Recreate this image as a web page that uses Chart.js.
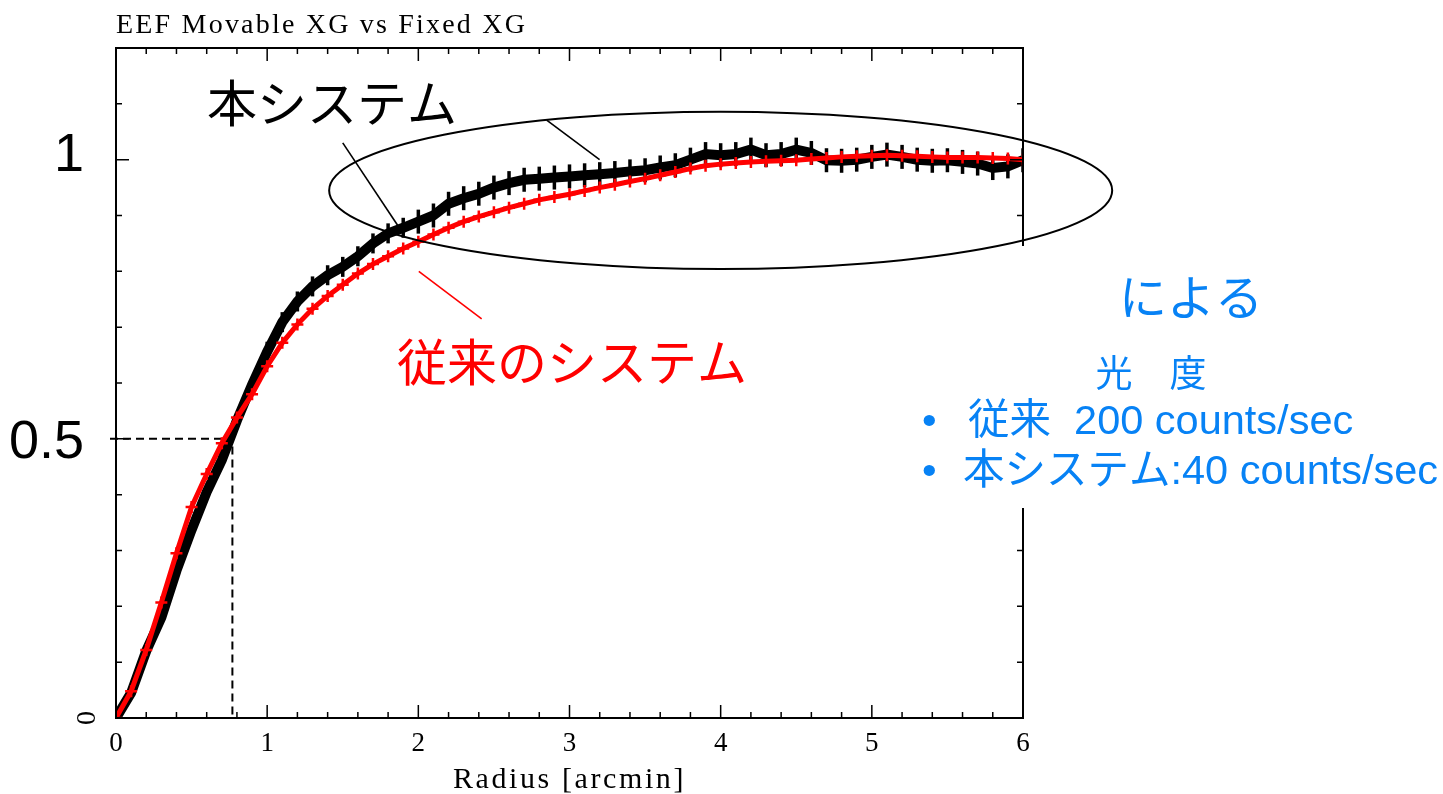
<!DOCTYPE html>
<html>
<head>
    <meta charset="utf-8" />
    <title>EEF Movable XG vs Fixed XG</title>
    <script src="https://cdn.jsdelivr.net/npm/chart.js"></script>
    <style>
        body { margin: 0; padding: 0; background: #fff; }
        #wrap { width: 1443px; height: 794px; }
    </style>
</head>
<body>
    <div id="wrap"><canvas id="eef" width="1443" height="794"></canvas></div>
    <script>
        // radius [arcmin]
        var radius = [0.0, 0.1, 0.2, 0.3, 0.4, 0.5, 0.6, 0.7, 0.8, 0.9,
                      1.0, 1.1, 1.2, 1.3, 1.4, 1.5, 1.6, 1.7, 1.8, 1.9,
                      2.0, 2.1, 2.2, 2.3, 2.4, 2.5, 2.6, 2.7, 2.8, 2.9,
                      3.0, 3.1, 3.2, 3.3, 3.4, 3.5, 3.6, 3.7, 3.8, 3.9,
                      4.0, 4.1, 4.2, 4.3, 4.4, 4.5, 4.6, 4.7, 4.8, 4.9,
                      5.0, 5.1, 5.2, 5.3, 5.4, 5.5, 5.6, 5.7, 5.8, 5.9, 6.0];

        // 本システム (movable XG)
        var eefMovable = [0.000, 0.045, 0.120, 0.180, 0.264, 0.337, 0.405, 0.462, 0.533, 0.597,
                          0.656, 0.709, 0.746, 0.773, 0.793, 0.808, 0.827, 0.850, 0.868, 0.878,
                          0.889, 0.900, 0.921, 0.931, 0.939, 0.950, 0.958, 0.964, 0.966, 0.968,
                          0.970, 0.972, 0.974, 0.976, 0.979, 0.981, 0.986, 0.990, 1.000, 1.010,
                          1.008, 1.010, 1.018, 1.008, 1.010, 1.018, 1.012, 0.999, 0.998, 1.000,
                          1.005, 1.009, 1.005, 1.000, 0.998, 0.999, 0.996, 0.993, 0.985, 0.988, 0.999];

        // 従来のシステム (fixed XG)
        var eefFixed = [0.000, 0.048, 0.122, 0.207, 0.295, 0.378, 0.437, 0.492, 0.538, 0.580,
                        0.630, 0.672, 0.705, 0.733, 0.756, 0.776, 0.796, 0.813, 0.827, 0.841,
                        0.853, 0.866, 0.878, 0.889, 0.898, 0.906, 0.914, 0.921, 0.928, 0.933,
                        0.938, 0.944, 0.950, 0.955, 0.961, 0.966, 0.972, 0.978, 0.984, 0.989,
                        0.992, 0.994, 0.996, 0.997, 0.998, 0.999, 1.001, 1.003, 1.005, 1.006,
                        1.007, 1.008, 1.007, 1.006, 1.005, 1.004, 1.004, 1.004, 1.003, 1.002, 1.000];

        var xTicks = [0, 1, 2, 3, 4, 5, 6];
        var halfRadius = 0.77;   // radius where EEF = 0.5

        var serif = '"Liberation Serif", "DejaVu Serif", serif';
        var sans = '"Liberation Sans", Arial, "Noto Sans CJK JP", sans-serif';
        var cjk = '"Noto Sans CJK JP", sans-serif';
        var blue = '#0782f5';

        function toPoints(ys) {
            return radius.map(function (r, i) { return { x: r, y: ys[i] }; });
        }

        function near(a, b) { return Math.abs(a - b) < 1e-6; }

        // inward ticks, frame, dashed guides, ellipse and the slide annotations
        var overlay = {
            id: 'overlay',
            beforeDatasetsDraw: function (chart) {
                var c = chart.ctx, xs = chart.scales.x, ys = chart.scales.y;
                var px = xs.getPixelForValue(halfRadius), py = ys.getPixelForValue(0.5);
                c.save();
                c.strokeStyle = '#000';
                c.lineWidth = 2;
                c.setLineDash([8, 5]);
                c.beginPath();
                c.moveTo(chart.chartArea.left - 6, py);
                c.lineTo(px, py);
                c.lineTo(px, chart.chartArea.bottom);
                c.stroke();
                c.restore();
            },
            afterDatasetsDraw: function (chart) {
                var c = chart.ctx, a = chart.chartArea;
                var xs = chart.scales.x, ys = chart.scales.y;
                c.save();
                c.strokeStyle = '#000';
                c.lineWidth = 2;
                c.strokeRect(a.left, a.top, a.right - a.left, a.bottom - a.top);
                c.lineWidth = 1.5;
                c.beginPath();
                xs.ticks.forEach(function (t) {
                    var p = xs.getPixelForValue(t.value);
                    var len = near(t.value, Math.round(t.value)) ? 13 : 6;
                    c.moveTo(p, a.bottom); c.lineTo(p, a.bottom - len);
                    c.moveTo(p, a.top); c.lineTo(p, a.top + len);
                });
                ys.ticks.forEach(function (t) {
                    var p = ys.getPixelForValue(t.value);
                    var len = near(t.value * 2, Math.round(t.value * 2)) ? 13 : 6;
                    c.moveTo(a.left, p); c.lineTo(a.left + len, p);
                    c.moveTo(a.right, p); c.lineTo(a.right - len, p);
                });
                c.stroke();

                // plot title and x axis title (PGPLOT style)
                c.fillStyle = '#000';
                c.font = '28px ' + serif;
                c.letterSpacing = '2.2px';
                c.textAlign = 'left';
                c.textBaseline = 'alphabetic';
                c.fillText('EEF Movable XG vs Fixed XG', a.left, 33);
                c.textAlign = 'center';
                c.letterSpacing = '2.6px';
                c.font = '30px ' + serif;
                c.fillText('Radius [arcmin]', (a.left + a.right) / 2, 788);
                c.letterSpacing = '0px';

                // rotated zero on the y axis
                c.save();
                c.translate(a.left - 28, ys.getPixelForValue(0));
                c.rotate(-Math.PI / 2);
                c.font = '28px ' + serif;
                c.textAlign = 'center';
                c.textBaseline = 'middle';
                c.fillText('0', 0, 0);
                c.restore();

                // large slide labels for 1 and 0.5
                c.font = '54px ' + sans;
                c.textAlign = 'right';
                c.textBaseline = 'middle';
                c.fillText('1', a.left - 32, ys.getPixelForValue(1) - 4);
                c.fillText('0.5', a.left - 32, ys.getPixelForValue(0.5) + 4);

                // white text box over the right axis
                c.fillStyle = '#fff';
                c.fillRect(912, 246, 531, 262);

                // ellipse around the plateau
                var cx = xs.getPixelForValue(4.0), cy = ys.getPixelForValue(0.945);
                var rx = xs.getPixelForValue(4.0 + 2.59) - cx;
                var ry = cy - ys.getPixelForValue(0.945 + 0.141);
                c.strokeStyle = '#000';
                c.lineWidth = 2;
                c.beginPath();
                c.ellipse(cx, cy, rx, ry, 0, 0, Math.PI * 2);
                c.stroke();

                // pointer lines
                function seg(x1, y1, x2, y2, col) {
                    c.strokeStyle = col;
                    c.lineWidth = 1.6;
                    c.beginPath();
                    c.moveTo(xs.getPixelForValue(x1), ys.getPixelForValue(y1));
                    c.lineTo(xs.getPixelForValue(x2), ys.getPixelForValue(y2));
                    c.stroke();
                }
                seg(1.50, 1.030, 1.864, 0.882, '#000');
                seg(2.849, 1.071, 3.199, 1.000, '#000');
                seg(2.003, 0.800, 2.419, 0.715, '#ff0000');

                // slide texts
                c.textAlign = 'center';
                c.textBaseline = 'middle';
                c.fillStyle = '#000';
                c.font = '50px ' + cjk;
                c.fillText('本システム', 332, 103);
                c.fillStyle = '#ff0000';
                c.fillText('従来のシステム', 572, 362);

                c.fillStyle = blue;
                c.font = '48px ' + cjk;
                c.fillText('による', 1191, 297);
                c.font = '37px ' + cjk;
                c.fillText('光　度', 1151, 373);

                c.textAlign = 'left';
                c.font = '41.5px ' + sans;
                c.fillText('•', 922, 423);
                c.fillText('•', 922, 473);
                c.fillText('従来  200 counts/sec', 968, 423);
                c.fillText('本システム:40 counts/sec', 963, 473);
                c.restore();
            }
        };

        new Chart(document.getElementById('eef'), {
            type: 'line',
            data: {
                datasets: [{
                    label: '従来のシステム',
                    data: toPoints(eefFixed),
                    borderColor: '#ff0000',
                    backgroundColor: '#ff0000',
                    borderWidth: 5,
                    pointStyle: 'cross',
                    pointRadius: 6,
                    pointBorderWidth: 2.5,
                    tension: 0
                }, {
                    label: '本システム',
                    data: toPoints(eefMovable),
                    borderColor: '#000',
                    backgroundColor: '#000',
                    borderWidth: 10,
                    pointStyle: 'line',
                    pointRotation: 90,
                    pointRadius: function (ctx) {
                        var r = ctx.raw ? ctx.raw.x : 0;
                        return r < 1 ? 5 : (r < 2 ? 10 : 12);
                    },
                    pointBorderWidth: 3.5,
                    tension: 0
                }]
            },
            options: {
                responsive: false,
                animation: false,
                layout: { padding: { left: 116, top: 48, right: 420, bottom: 0 } },
                plugins: {
                    legend: { display: false },
                    tooltip: { enabled: false }
                },
                scales: {
                    x: {
                        type: 'linear',
                        min: 0,
                        max: 6,
                        grid: { display: false, drawTicks: false },
                        border: { display: false },
                        ticks: {
                            stepSize: 0.2,
                            autoSkip: false,
                            maxRotation: 0,
                            padding: 10,
                            color: '#000',
                            font: { family: serif, size: 27 },
                            callback: function (v) {
                                var r = Math.round(v);
                                return near(v, r) && xTicks.indexOf(r) >= 0 ? String(r) : '';
                            }
                        },
                        afterFit: function (s) { s.height = 76; }
                    },
                    y: {
                        type: 'linear',
                        min: 0,
                        max: 1.2,
                        grid: { display: false, drawTicks: false },
                        border: { display: false },
                        ticks: { display: false, stepSize: 0.1 },
                        afterFit: function (s) { s.width = 0; }
                    }
                }
            },
            plugins: [overlay]
        });
    </script>
</body>
</html>
